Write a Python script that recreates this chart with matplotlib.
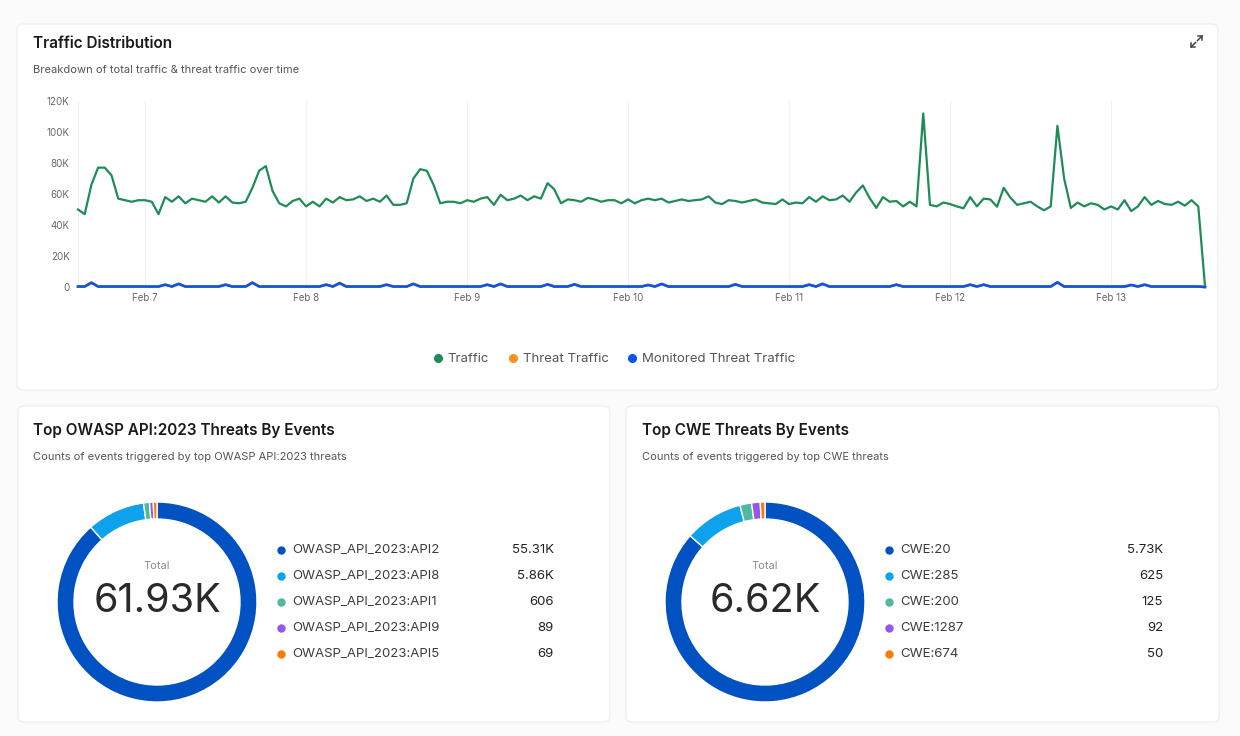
import matplotlib
matplotlib.use("Agg")
import matplotlib.pyplot as plt
import matplotlib.dates as mdates
from matplotlib.lines import Line2D
from matplotlib.patches import FancyBboxPatch
from matplotlib.ticker import FuncFormatter, MultipleLocator
import numpy as np
import pandas as pd

plt.rcParams['font.family'] = ['Inter', 'DejaVu Sans']

W, H = 1240, 736

# hourly samples, Feb 6 14:00 -> Feb 13 14:00, values in thousands
START = "2024-02-06 14:00"
traffic_k = [
    50, 47, 66, 77, 77, 72, 57, 56, 55, 56, 56, 55,
    47, 58, 55, 58.5, 54, 57, 56, 55, 58.5, 54.5, 58.5, 54.5,
    54, 55, 64, 75, 78, 62, 54, 52, 55.5, 57, 52, 55,
    52, 57, 54.5, 58, 56, 56.5, 58.5, 55.5, 57, 55, 59, 53,
    53, 54, 70, 76, 75, 66, 54, 55, 55, 54, 56, 55,
    57, 58, 53, 59.5, 56, 57, 59, 56, 58.5, 57, 67, 63,
    54, 56.5, 56, 55, 57.5, 56.5, 55, 56, 56, 54, 56.5, 54,
    56, 57, 56, 57, 54.5, 55.5, 56.5, 55.5, 56, 56.5, 58.5, 54.5,
    53.5, 56, 55.5, 54.5, 55.5, 56.5, 54.5, 54, 53.5, 56.5, 53.5, 54.5,
    54, 58, 55, 58.5, 56, 56.5, 59, 55, 61, 65.5, 57.5, 51,
    58, 55, 55.5, 52, 55, 52, 112, 53, 52, 54.5, 53.5, 52,
    50.8, 58, 52, 57, 56.5, 51.8, 64, 57.6, 53, 54, 55, 52,
    49.5, 52, 104, 70, 51, 54.5, 52, 54, 53, 50, 52, 50,
    56, 49, 52, 58, 53, 55.5, 53.6, 53, 55, 52.5, 56, 52,
    0.5,
]
monitored_k = [
    0.3, 0.3, 2.8, 0.3, 0.3, 0.3, 0.3, 0.3, 0.3, 0.3, 0.3, 0.3,
    0.3, 1.5, 0.3, 2.0, 0.3, 0.3, 0.3, 0.3, 0.3, 0.3, 1.5, 0.3,
    0.3, 0.3, 2.8, 0.3, 0.3, 0.3, 0.3, 0.3, 0.3, 0.3, 0.3, 0.3,
    0.3, 1.5, 0.3, 2.5, 0.3, 0.3, 0.3, 0.3, 0.3, 0.3, 1.5, 0.3,
    0.3, 0.3, 2.0, 0.3, 0.3, 0.3, 0.3, 0.3, 0.3, 0.3, 0.3, 0.3,
    0.3, 1.5, 0.3, 2.0, 0.3, 0.3, 0.3, 0.3, 0.3, 0.3, 1.7, 0.3,
    0.3, 0.3, 1.7, 0.3, 0.3, 0.3, 0.3, 0.3, 0.3, 0.3, 0.3, 0.3,
    0.3, 1.3, 0.3, 2.0, 0.3, 0.3, 0.3, 0.3, 0.3, 0.3, 0.3, 0.3,
    0.3, 0.3, 1.7, 0.3, 0.3, 0.3, 0.3, 0.3, 0.3, 0.3, 0.3, 0.3,
    0.3, 1.5, 0.3, 2.0, 0.3, 0.3, 0.3, 0.3, 0.3, 0.3, 0.3, 0.3,
    0.3, 0.3, 1.5, 0.3, 0.3, 0.3, 0.3, 0.3, 0.3, 0.3, 0.3, 0.3,
    0.3, 1.5, 0.3, 1.5, 0.3, 0.3, 0.3, 0.3, 0.3, 0.3, 0.3, 0.3,
    0.3, 0.3, 3.0, 0.3, 0.3, 0.3, 0.3, 0.3, 0.3, 0.3, 0.3, 0.3,
    0.3, 1.3, 0.3, 1.5, 0.3, 0.3, 0.3, 0.3, 0.3, 0.3, 0.3, 0.3,
    0.0,
]
threat_k = list(monitored_k)  # sits exactly under the monitored line

series_names = ["Traffic", "Threat Traffic", "Monitored Threat Traffic"]
series_colors = ["#1f8c58", "#f7931e", "#0a55e6"]

owasp_labels = ["OWASP_API_2023:API2", "OWASP_API_2023:API8", "OWASP_API_2023:API1",
                "OWASP_API_2023:API9", "OWASP_API_2023:API5"]
owasp_values = [55310, 5860, 606, 89, 69]
cwe_labels = ["CWE:20", "CWE:285", "CWE:200", "CWE:1287", "CWE:674"]
cwe_values = [5730, 625, 125, 92, 50]
slice_colors = ["#0051c1", "#0ea2ee", "#4cb9a0", "#9457e6", "#fb7a0c"]


def fx(x):
    return x / W


def fy(y):
    return 1 - y / H


def fmt_count(v):
    return f"{v / 1000:.2f}K" if v >= 1000 else f"{v}"


def panel(fig, x0, y0, x1, y1):
    p = FancyBboxPatch((x0 / 100, (H - y1) / 100), (x1 - x0) / 100, (y1 - y0) / 100,
                       boxstyle="round,pad=0,rounding_size=0.06",
                       transform=fig.dpi_scale_trans, facecolor="white",
                       edgecolor="#ededf1", linewidth=0.8, zorder=0)
    fig.add_artist(p)


def donut(fig, cx, cy, r, values, labels, x_leg, x_val):
    ax = fig.add_axes([fx(cx - r), fy(cy + r), 2 * r / W, 2 * r / H])
    total = sum(values)
    shown = np.maximum(values, total * 0.006)
    ax.pie(shown, colors=slice_colors, startangle=90, counterclock=False,
           wedgeprops=dict(width=0.17, edgecolor="white", linewidth=1.0))
    ax.set_xlim(-1.01, 1.01)
    ax.set_ylim(-1.01, 1.01)
    ax.set_aspect("equal")
    ax.axis("off")
    fig.text(fx(cx), fy(cy - 36), "Total", ha="center", va="center",
             fontsize=8, color="#8a8a8a")
    fig.text(fx(cx), fy(cy - 1), fmt_count(total), ha="center", va="center",
             fontsize=28.5, color="#2a2a2a")
    for i, (lab, v) in enumerate(zip(labels, values)):
        yy = 550 + 26 * i
        fig.add_artist(Line2D([fx(x_leg)], [fy(yy)], marker="o", markersize=5,
                              color=slice_colors[i], transform=fig.transFigure))
        fig.text(fx(x_leg + 11), fy(yy), lab, ha="left", va="center",
                 fontsize=9.5, color="#3c3c3c")
        fig.text(fx(x_val), fy(yy), fmt_count(v), ha="right", va="center",
                 fontsize=9.5, color="#222222")


def main():
    fig = plt.figure(figsize=(W / 100, H / 100), dpi=100)
    fig.patch.set_facecolor("#fbfbfc")

    panel(fig, 17, 24, 1218, 390)
    panel(fig, 18, 406, 610, 722)
    panel(fig, 626, 406, 1219, 722)

    # --- traffic line chart ---
    times = pd.date_range(START, periods=len(traffic_k), freq="h")
    ax = fig.add_axes([fx(78), fy(287), fx(1205) - fx(78), fy(101) - fy(287)])
    ax.set_facecolor("none")
    ax.plot(times, traffic_k, color=series_colors[0], lw=1.6, solid_joinstyle="round",
            clip_on=False, zorder=3)
    ax.plot(times, threat_k, color=series_colors[1], lw=1.9, clip_on=False, zorder=3)
    ax.plot(times, monitored_k, color=series_colors[2], lw=1.9, clip_on=False, zorder=4)
    ax.set_xlim(times[0], times[-1])
    ax.set_ylim(0, 120)
    ax.yaxis.set_major_locator(MultipleLocator(20))
    ax.yaxis.set_major_formatter(FuncFormatter(lambda v, p: "0" if v == 0 else f"{int(v)}K"))
    ax.xaxis.set_major_locator(mdates.DayLocator())
    ax.xaxis.set_major_formatter(FuncFormatter(
        lambda v, p: f"{mdates.num2date(v):%b} {mdates.num2date(v).day}"))
    ax.grid(axis="x", color="#f1f1f4", lw=0.8)
    ax.tick_params(length=0, labelsize=7, colors="#666666", pad=6)
    ax.tick_params(axis="x", pad=4)
    for s in ["top", "right", "bottom"]:
        ax.spines[s].set_visible(False)
    ax.spines["left"].set_color("#eeeef2")

    fig.text(fx(33), fy(44), "Traffic Distribution", fontsize=11, weight="semibold",
             color="#1a1a1a", va="center")
    fig.text(fx(33), fy(70), "Breakdown of total traffic & threat traffic over time",
             fontsize=8, color="#555555", va="center")

    # expand icon
    for xs, ys in [([1191, 1191, 1195], [43, 47, 47]), ([1198, 1202, 1202], [36, 36, 40]),
                   ([1191, 1195.5], [47, 42.5]), ([1197.5, 1202], [40.5, 36])]:
        fig.add_artist(Line2D([fx(x) for x in xs], [fy(y) for y in ys], color="#444444",
                              lw=1.1, transform=fig.transFigure))

    handles = [Line2D([], [], marker="o", ls="", color=c, markersize=5.5) for c in series_colors]
    fig.legend(handles, series_names, loc="center", bbox_to_anchor=(fx(614), fy(359)),
               ncol=3, frameon=False, fontsize=9.5, handletextpad=0.35, columnspacing=1.4,
               handlelength=0.8, labelcolor="#555555")

    # --- donuts ---
    fig.text(fx(33), fy(431), "Top OWASP API:2023 Threats By Events", fontsize=11,
             weight="semibold", color="#1a1a1a", va="center")
    fig.text(fx(33), fy(457), "Counts of events triggered by top OWASP API:2023 threats",
             fontsize=8, color="#555555", va="center")
    fig.text(fx(642), fy(431), "Top CWE Threats By Events", fontsize=11,
             weight="semibold", color="#1a1a1a", va="center")
    fig.text(fx(642), fy(457), "Counts of events triggered by top CWE threats",
             fontsize=8, color="#555555", va="center")

    donut(fig, 157, 602, 101, owasp_values, owasp_labels, 281, 554)
    donut(fig, 765, 602, 101, cwe_values, cwe_labels, 889, 1163)

    fig.savefig("out.png", dpi=100, facecolor=fig.get_facecolor())
    plt.close(fig)


if __name__ == "__main__":
    main()
